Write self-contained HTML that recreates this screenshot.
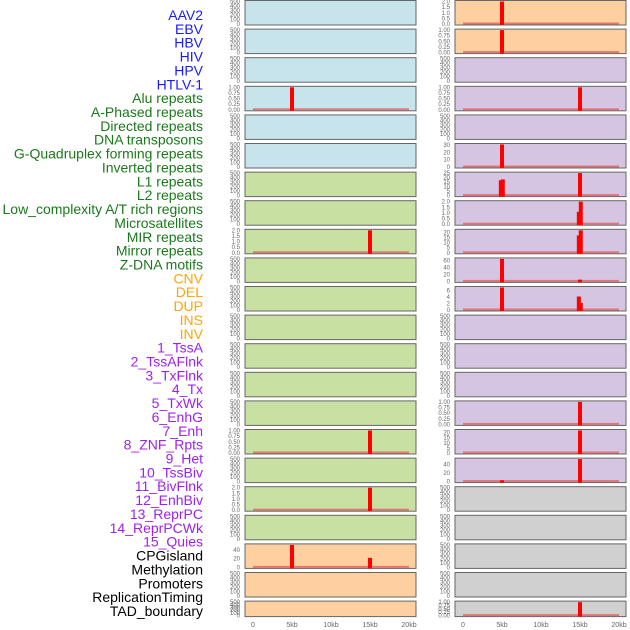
<!DOCTYPE html>
<html><head><meta charset="utf-8">
<style>
body{margin:0;background:#fff;width:630px;height:630px;overflow:hidden;font-family:"Liberation Sans",sans-serif;}
svg{display:block}
</style></head>
<body>
<svg id="chart" width="630" height="630" xmlns="http://www.w3.org/2000/svg"></svg>
<script>
const labels=["AAV2","EBV","HBV","HIV","HPV","HTLV-1","Alu repeats","A-Phased repeats","Directed repeats","DNA transposons","G-Quadruplex forming repeats","Inverted repeats","L1 repeats","L2 repeats","Low_complexity A/T rich regions","Microsatellites","MIR repeats","Mirror repeats","Z-DNA motifs","CNV","DEL","DUP","INS","INV","1_TssA","2_TssAFlnk","3_TxFlnk","4_Tx","5_TxWk","6_EnhG","7_Enh","8_ZNF_Rpts","9_Het","10_TssBiv","11_BivFlnk","12_EnhBiv","13_ReprPC","14_ReprPCWk","15_Quies","CPGisland","Methylation","Promoters","ReplicationTiming","TAD_boundary"];
const labelGroups=[0,0,0,0,0,0,1,1,1,1,1,1,1,1,1,1,1,1,1,2,2,2,2,2,3,3,3,3,3,3,3,3,3,3,3,3,3,3,3,4,4,4,4,4];
const groupColors=["#1a1aff","#1a7a1a","#ffa500","#a020f0","#000000"];
const panelFill=["b","b","b","b","b","b","g","g","g","g","g","g","g","g","g","g","g","g","g","o","o","o",
 "o","o","p","p","p","p","p","p","p","p","p","p","p","p","p","p","p","y","y","y","y","y"];
const fills={b:"#c7e3ec",g:"#c8e1a2",o:"#fecf9f",p:"#d5c5e2",y:"#d0d0d0"};
const panelTicks=[
 [0,100,200,300,400,500],[0,100,200,300,400,500],[0,100,200,300,400,500],[0,0.25,0.5,0.75,1],[0,100,200,300,400,500],[0,100,200,300,400,500],[0,100,200,300,400,500],
 [0,100,200,300,400,500],[0,0.5,1,1.5,2],[0,100,200,300,400,500],[0,100,200,300,400,500],[0,100,200,300,400,500],[0,100,200,300,400,500],[0,100,200,300,400,500],
 [0,100,200,300,400,500],[0,0.25,0.5,0.75,1],[0,100,200,300,400,500],[0,0.5,1,1.5,2],[0,100,200,300,400,500],[0,20,40],[0,100,200,300,400,500],[0,100,200,300,400,500],
 [0,0.5,1,1.5,2],[0,0.25,0.5,0.75,1],[0,100,200,300,400,500],[0,0.25,0.5,0.75,1],[0,100,200,300,400,500],[0,10,20,30],[0,5,10,15,20,25],
 [0,0.5,1,1.5,2],[0,5,10,15,20],[0,20,40,60],[0,2,4,6],[0,100,200,300,400,500],[0,100,200,300,400,500],[0,100,200,300,400,500],
 [0,0.25,0.5,0.75,1],[0,5,10,15,20],[0,20,40],[0,100,200,300,400,500],[0,100,200,300,400,500],[0,100,200,300,400,500],[0,100,200,300,400,500],[0,0.25,0.5,0.75,1]];
const panelMax=[500,500,500,1,500,500,500, 500,2,500,500,500,500,500, 500,1,500,2,500,52,500,500,
 2,1,500,1,500,31,25, 2,22,65,7,500,500,500, 1,22,52,500,500,500,500,1];
const barPanel=[3,8,15,17,19,19, 22,23,25,27,28,28,28,29,29,30,30,31,31,32,32,32,36,37,38,38,43];
const barPos  =[5,15,15,15,5,15, 5,5,15,5,4.85,5.1,15,14.85,15.1,14.85,15.1,5,15,5,14.85,15.1,15,15,5,15,15];
const barVal  =[1,2,1,2,52,22, 2,1,1,31,17,18,25,1.1,2,17,22,65,5,7,4.2,2.2,1,22,3,52,1];
const xTicks=[0,5,10,15,20];
const xTickLabels=["0","5kb","10kb","15kb","20kb"];

const NS="http://www.w3.org/2000/svg";
const svg=document.getElementById("chart");
function mk(t,a,p){const e=document.createElementNS(NS,t);for(const k in a)e.setAttribute(k,a[k]);(p||svg).appendChild(e);return e;}
labels.forEach((l,i)=>{
 const t=mk("text",{x:203,y:20+i*13.86,"text-anchor":"end","font-size":"14",fill:groupColors[labelGroups[i]]});
 t.textContent=l;
 
 
});
const colX=[245,455];
const W=171;
function panelGeom(i){const col=i<22?0:1;const r=i%22;const top=0.5+r*28.6;const h=r===21?15.5:24.5;return{x:colX[col],top,h,col};}
function xs(col,kb){return colX[col]+8+kb*(156/20);}
for(let i=0;i<44;i++){
 const g=panelGeom(i);
 const grp=mk("g",{});
 
 
 mk("rect",{x:g.x,y:g.top,width:W,height:g.h,fill:fills[panelFill[i]],stroke:"#666","stroke-width":1},grp);
 const max=panelMax[i];
 const y0=g.top+g.h-1, y1=g.top+1;
 const ys=v=>y0-(v/max)*(y0-y1);
 panelTicks[i].forEach(v=>{
  const t=mk("text",{x:g.x-5,y:ys(v)+2,"text-anchor":"end","font-size":"6",fill:"#666"},grp);
  t.textContent=(max<=2)?(max===1?v.toFixed(2):v.toFixed(1)):String(v);
 });
 const hasBars=barPanel.includes(i);
 if(hasBars){
  mk("rect",{x:xs(g.col,0),y:y0-1.5,width:156,height:2,fill:"#e06060",opacity:0.8},grp);
 }
 barPanel.forEach((p,k)=>{
  if(p!==i)return;
  const v=Math.min(barVal[k],max);
  const yt=ys(v);
  const b=mk("rect",{x:xs(g.col,barPos[k])-2,y:yt,width:4,height:Math.max(y0+1-yt,1),fill:"#ff0000"},grp);
  
  
 });
}
[0,1].forEach(col=>{
 xTicks.forEach((v,k)=>{
  const t=mk("text",{x:xs(col,v),y:627,"text-anchor":"middle","font-size":"7",fill:"#666"});
  t.textContent=xTickLabels[k];
  
  
 });
});
</script>
</body></html>
